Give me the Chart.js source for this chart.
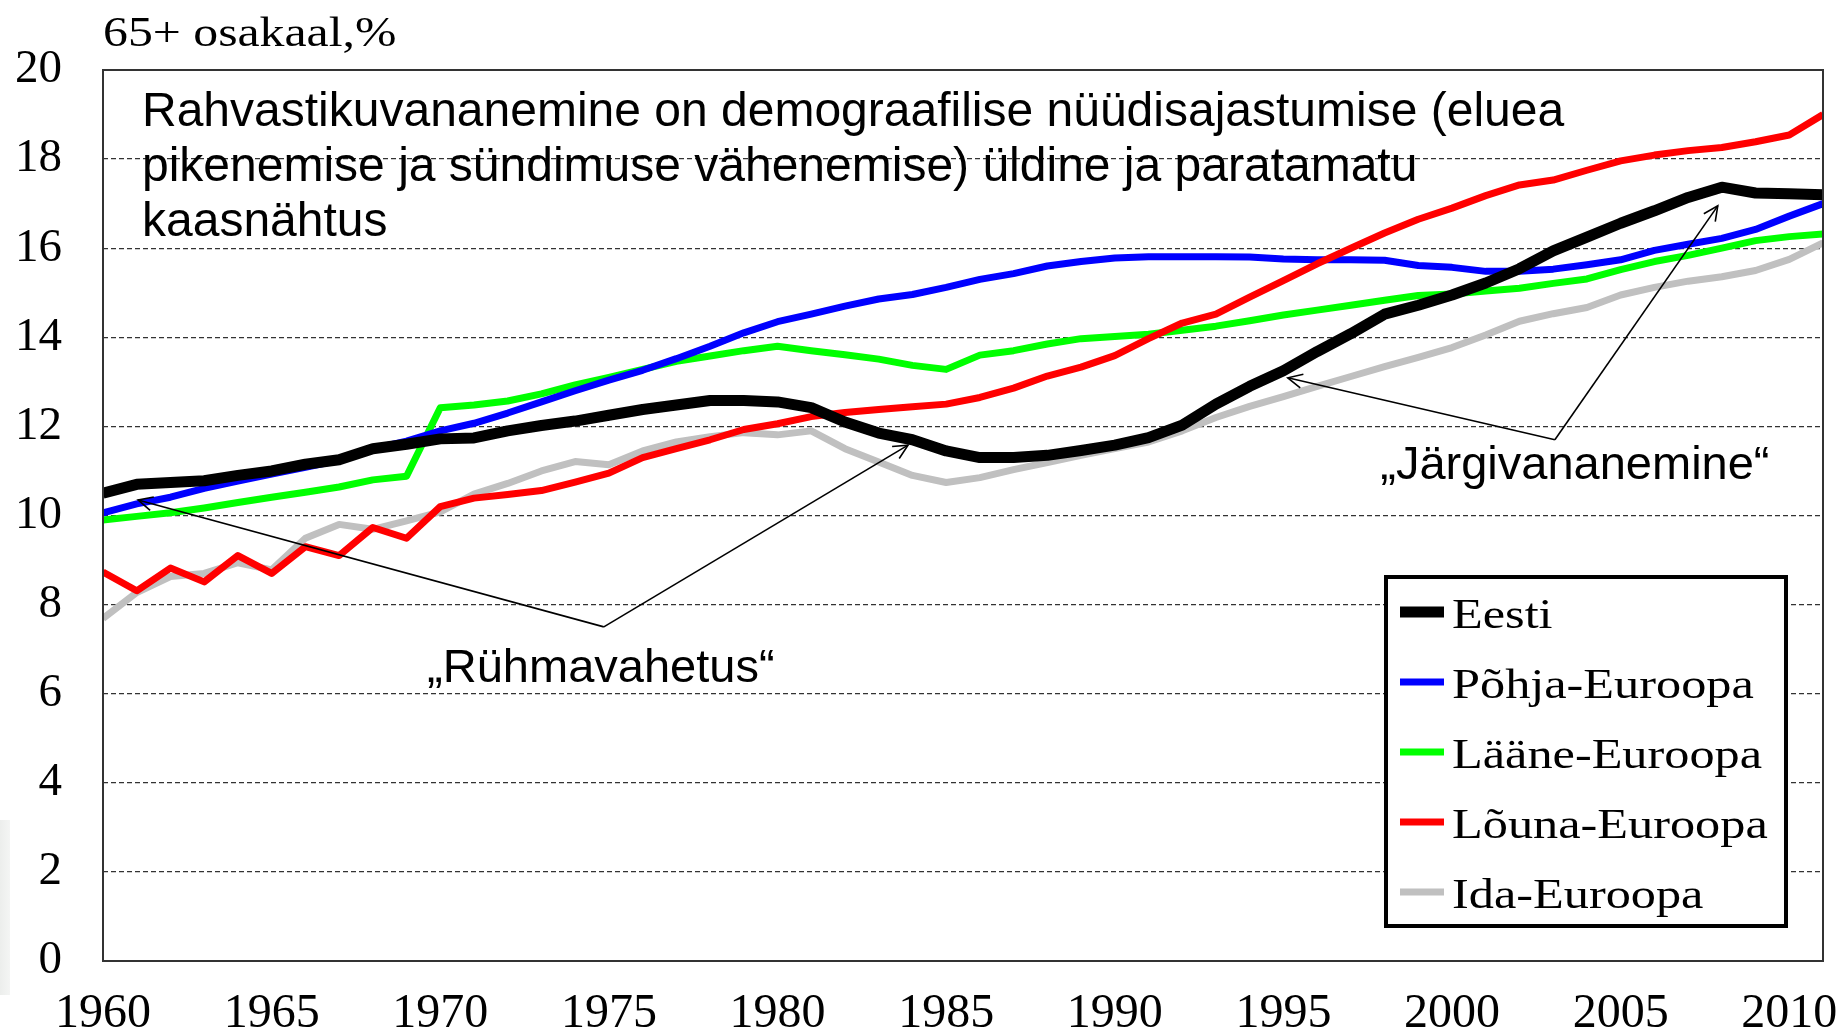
<!DOCTYPE html>
<html>
<head>
<meta charset="utf-8">
<title>65+ osakaal</title>
<script src="https://cdn.jsdelivr.net/npm/chart.js@4.4.1/dist/chart.umd.min.js"></script>
<style>
  html, body { margin: 0; padding: 0; background: #fff; }
  #wrap { position: relative; width: 1842px; height: 1032px; }
  #strip { position: absolute; left: 0; top: 820px; width: 10px; height: 175px;
           background: linear-gradient(to right, #eceeec, #f4f5f4); }
</style>
</head>
<body>
<div id="wrap"><div id="strip"></div><canvas id="ageChart" width="1842" height="1032" style="position:relative"></canvas></div>
<script>
// years on the x axis and the labelled ticks
const years = [1960, 1961, 1962, 1963, 1964, 1965, 1966, 1967, 1968, 1969,
               1970, 1971, 1972, 1973, 1974, 1975, 1976, 1977, 1978, 1979,
               1980, 1981, 1982, 1983, 1984, 1985, 1986, 1987, 1988, 1989,
               1990, 1991, 1992, 1993, 1994, 1995, 1996, 1997, 1998, 1999,
               2000, 2001, 2002, 2003, 2004, 2005, 2006, 2007, 2008, 2009,
               2010, 2011];
const tickYears = [1960, 1965, 1970, 1975, 1980, 1985, 1990, 1995, 2000, 2005, 2010];

// share of 65+ population, %
const eesti = [10.5, 10.7, 10.74, 10.78, 10.9, 11.0, 11.15, 11.25, 11.5, 11.6,
               11.72, 11.74, 11.9, 12.02, 12.12, 12.25, 12.38, 12.48, 12.58, 12.58,
               12.55, 12.42, 12.1, 11.85, 11.7, 11.45, 11.3, 11.3, 11.35, 11.46,
               11.58, 11.75, 12.03, 12.5, 12.9, 13.25, 13.68, 14.08, 14.52, 14.72,
               14.95, 15.22, 15.54, 15.94, 16.25, 16.56, 16.84, 17.14, 17.37, 17.24,
               17.22, 17.2];
const pohja = [10.06, 10.26, 10.41, 10.61, 10.77, 10.93, 11.08, 11.24, 11.5, 11.67,
               11.9, 12.07, 12.3, 12.55, 12.8, 13.04, 13.26, 13.52, 13.8, 14.1,
               14.35, 14.52, 14.7, 14.86, 14.96, 15.12, 15.3, 15.43, 15.6, 15.7,
               15.78, 15.81, 15.81, 15.81, 15.8, 15.76, 15.74, 15.74, 15.73, 15.61,
               15.57, 15.48, 15.48, 15.53, 15.63, 15.74, 15.95, 16.09, 16.22, 16.42,
               16.72, 17.0];
const laane = [9.9, 9.98, 10.06, 10.17, 10.29, 10.41, 10.52, 10.64, 10.8, 10.88,
               12.42, 12.48, 12.57, 12.73, 12.93, 13.1, 13.28, 13.46, 13.58, 13.7,
               13.8, 13.7, 13.61, 13.51, 13.37, 13.28, 13.6, 13.7, 13.85, 13.97,
               14.02, 14.07, 14.16, 14.25, 14.37, 14.5, 14.61, 14.72, 14.83, 14.94,
               14.97, 15.04, 15.1, 15.21, 15.31, 15.52, 15.7, 15.84, 16.0, 16.17,
               16.26, 16.32];
const louna = [8.73, 8.31, 8.82, 8.51, 9.1, 8.7, 9.3, 9.1, 9.73, 9.49,
               10.2, 10.39, 10.47, 10.56, 10.75, 10.95, 11.3, 11.5, 11.7, 11.93,
               12.06, 12.22, 12.31, 12.38, 12.44, 12.5, 12.65, 12.86, 13.13, 13.33,
               13.59, 13.97, 14.32, 14.52, 14.9, 15.27, 15.65, 16.0, 16.34, 16.65,
               16.9, 17.18, 17.42, 17.53, 17.75, 17.96, 18.09, 18.19, 18.26, 18.39,
               18.54, 19.0];
const ida = [7.69, 8.27, 8.63, 8.7, 8.94, 8.78, 9.49, 9.8, 9.69, 9.88,
             10.08, 10.48, 10.72, 11.0, 11.21, 11.14, 11.45, 11.65, 11.77, 11.86,
             11.81, 11.9, 11.5, 11.2, 10.9, 10.74, 10.85, 11.03, 11.19, 11.35,
             11.5, 11.65, 11.9, 12.2, 12.45, 12.67, 12.9, 13.12, 13.34, 13.55,
             13.77, 14.05, 14.36, 14.53, 14.67, 14.95, 15.12, 15.26, 15.36, 15.5,
             15.75, 16.12];

const seriesNames = ['Eesti', 'Põhja-Euroopa', 'Lääne-Euroopa', 'Lõuna-Euroopa', 'Ida-Euroopa'];

// texts
const axisTitle = '65+ osakaal,%';
const noteLines = [
    'Rahvastikuvananemine on demograafilise nüüdisajastumise (eluea',
    'pikenemise ja sündimuse vähenemise) üldine ja paratamatu',
    'kaasnähtus'
];
// callouts: label, vertex [year, %], arrow tips [year, %]
const callouts = [
    { text: '„Rühmavahetus“', at: [1974.85, 7.5], tips: [[1961.04, 10.35], [1983.87, 11.58]], dx: -3, dy: 55 },
    { text: '„Järgivananemine“', at: [2003.05, 11.7], tips: [[1995.13, 13.09], [2007.88, 16.95]], dx: 20, dy: 39 }
];

const SERIF = '"Liberation Serif", "Times New Roman", serif';
const SANS = '"Liberation Sans", Arial, sans-serif';

function pts(values) {
    return values.map((v, i) => ({ x: years[i], y: v }));
}

function wideText(ctx, text, x, y, sx) {
    ctx.save();
    ctx.translate(x, y);
    ctx.scale(sx, 1);
    ctx.fillText(text, 0, 0);
    ctx.restore();
}

function arrow(ctx, x0, y0, x1, y1) {
    ctx.beginPath();
    ctx.moveTo(x0, y0);
    ctx.lineTo(x1, y1);
    ctx.stroke();
    const a = Math.atan2(y1 - y0, x1 - x0);
    const len = 16, spread = 0.45;
    ctx.beginPath();
    ctx.moveTo(x1 - len * Math.cos(a - spread), y1 - len * Math.sin(a - spread));
    ctx.lineTo(x1, y1);
    ctx.lineTo(x1 - len * Math.cos(a + spread), y1 - len * Math.sin(a + spread));
    ctx.stroke();
}

const extras = {
    id: 'extras',
    afterDraw(chart) {
        const { ctx, chartArea: area, scales: { x, y } } = chart;
        ctx.save();

        // plot frame
        ctx.strokeStyle = '#333';
        ctx.lineWidth = 2;
        ctx.strokeRect(area.left, area.top, area.right - area.left, area.bottom - area.top);

        // axis title
        ctx.fillStyle = '#000';
        ctx.textAlign = 'left';
        ctx.textBaseline = 'alphabetic';
        ctx.font = '42px ' + SERIF;
        wideText(ctx, axisTitle, area.left, 46, 1.185);

        // big note
        ctx.font = '48px ' + SANS;
        noteLines.forEach((t, i) => ctx.fillText(t, area.left + 39, area.top + 56 + i * 55));

        // callouts
        ctx.strokeStyle = '#000';
        ctx.lineWidth = 1.6;
        ctx.font = '47px ' + SANS;
        ctx.textAlign = 'center';
        callouts.forEach(c => {
            const vx = x.getPixelForValue(c.at[0]);
            const vy = y.getPixelForValue(c.at[1]);
            c.tips.forEach(t => arrow(ctx, vx, vy, x.getPixelForValue(t[0]), y.getPixelForValue(t[1])));
            ctx.fillText(c.text, vx + c.dx, vy + c.dy);
        });

        // legend box
        const bx = area.right - 437, by = area.top + 507, bw = 400, bh = 349;
        ctx.fillStyle = '#fff';
        ctx.fillRect(bx, by, bw, bh);
        ctx.strokeStyle = '#000';
        ctx.lineWidth = 4;
        ctx.strokeRect(bx, by, bw, bh);
        ctx.textAlign = 'left';
        ctx.font = '43px ' + SERIF;
        chart.data.datasets.forEach((ds, i) => {
            const base = by + 51 + i * 70;
            ctx.strokeStyle = ds.borderColor;
            ctx.lineWidth = i === 0 ? 11 : 7;
            ctx.lineCap = 'butt';
            ctx.beginPath();
            ctx.moveTo(bx + 14, base - 16);
            ctx.lineTo(bx + 58, base - 16);
            ctx.stroke();
            ctx.fillStyle = '#000';
            wideText(ctx, ds.label, bx + 66, base, 1.17);
        });

        ctx.restore();
    }
};

const colors = ['#000000', '#0000ff', '#00ff00', '#ff0000', '#c0c0c0'];
const widths = [11, 7, 7, 7, 7];
const drawOrder = [0, 2, 3, 1, 4]; // lower = drawn on top
const seriesData = [eesti, pohja, laane, louna, ida];

new Chart(document.getElementById('ageChart'), {
    type: 'line',
    data: {
        datasets: seriesNames.map((name, i) => ({
            label: name,
            data: pts(seriesData[i]),
            borderColor: colors[i],
            backgroundColor: colors[i],
            borderWidth: widths[i],
            pointRadius: 0,
            tension: 0,
            fill: false,
            order: drawOrder[i],
            borderJoinStyle: 'round'
        }))
    },
    options: {
        responsive: false,
        animation: false,
        events: [],
        layout: { padding: { top: 70, right: 19, left: 0, bottom: 0 } },
        plugins: {
            legend: { display: false },
            tooltip: { enabled: false }
        },
        scales: {
            x: {
                type: 'linear',
                min: years[0],
                max: years[years.length - 1],
                afterBuildTicks: s => { s.ticks = tickYears.map(v => ({ value: v })); },
                afterFit: s => { s.height = 71; s.paddingLeft = 0; s.paddingRight = 0; },
                grid: { display: false, drawTicks: false },
                border: { display: false },
                ticks: {
                    autoSkip: false,
                    maxRotation: 0,
                    padding: 25,
                    color: '#000',
                    font: { family: SERIF, size: 48 },
                    callback: v => String(v)
                }
            },
            y: {
                min: 0,
                max: 20,
                afterFit: s => { s.width = 103; s.paddingTop = 0; s.paddingBottom = 0; },
                grid: {
                    drawTicks: false,
                    color: c => (c.tick.value === 0 || c.tick.value === 20) ? 'rgba(0,0,0,0)' : '#333',
                    lineWidth: 1.2
                },
                border: { display: false, dash: [5, 3] },
                ticks: {
                    stepSize: 2,
                    padding: 41,
                    color: '#000',
                    font: { family: SERIF, size: 47 }
                }
            }
        }
    },
    plugins: [extras]
});
</script>
</body>
</html>
